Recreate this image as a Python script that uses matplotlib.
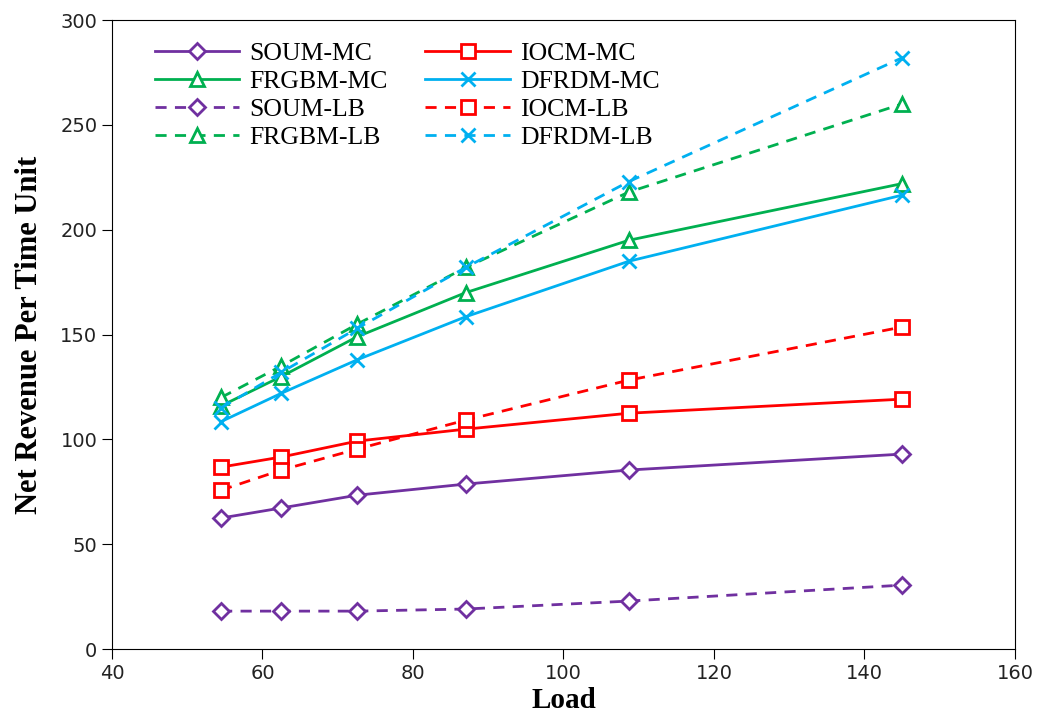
import matplotlib.pyplot as plt

plt.rcParams["font.family"] = ["Liberation Serif", "DejaVu Serif"]

load = [54.5, 62.5, 72.6, 87.0, 108.7, 145.0]

soum_mc = [62.5, 67.3, 73.4, 78.7, 85.4, 93.0]
iocm_mc = [86.8, 91.6, 99.2, 104.9, 112.5, 119.2]
frgbm_mc = [116.0, 130.0, 149.0, 170.0, 195.0, 222.0]
dfrdm_mc = [108.5, 122.0, 138.0, 158.5, 185.0, 216.5]

soum_lb = [18.1, 18.1, 18.1, 19.1, 22.9, 30.5]
iocm_lb = [75.8, 85.4, 95.4, 109.2, 128.3, 153.6]
frgbm_lb = [120.0, 135.0, 155.0, 182.0, 218.0, 260.0]
dfrdm_lb = [115.0, 132.0, 153.0, 182.0, 223.0, 282.0]

purple = "#7030A0"
red = "#FF0000"
green = "#00B050"
blue = "#00B0F0"

fig = plt.figure(figsize=(10.42, 7.18), dpi=100)
ax = fig.add_axes([0.1075, 0.096, 0.8665, 0.876])

common = dict(lw=2, mfc="white", mew=2)
series = [
    (soum_mc, "SOUM-MC", purple, "-", "D", 8),
    (iocm_mc, "IOCM-MC", red, "-", "s", 10),
    (frgbm_mc, "FRGBM-MC", green, "-", "^", 9.5),
    (dfrdm_mc, "DFRDM-MC", blue, "-", "x", 9.5),
    (soum_lb, "SOUM-LB", purple, "--", "D", 8),
    (iocm_lb, "IOCM-LB", red, "--", "s", 10),
    (frgbm_lb, "FRGBM-LB", green, "--", "^", 9.5),
    (dfrdm_lb, "DFRDM-LB", blue, "--", "x", 9.5),
]

handles = {}
for vals, name, col, ls, mk, ms in series:
    kw = dict(common)
    if ls == "--":
        kw["dashes"] = (4, 3)
    (h,) = ax.plot(load, vals, ls, color=col, marker=mk, ms=ms, mec=col,
                   label=name, **kw)
    handles[name] = h

order = ["SOUM-MC", "FRGBM-MC", "SOUM-LB", "FRGBM-LB",
         "IOCM-MC", "DFRDM-MC", "IOCM-LB", "DFRDM-LB"]
ax.legend([handles[n] for n in order], order, ncol=2, frameon=False,
          loc="upper left", bbox_to_anchor=(0.03, 0.99), fontsize=18.5,
          handlelength=3.3, labelspacing=0.2, columnspacing=1.45,
          handletextpad=0.4, borderaxespad=0.2)

ax.set_xlim(40, 160)
ax.set_ylim(0, 300)
ax.set_xticks(range(40, 161, 20))
ax.set_yticks(range(0, 301, 50))
ax.tick_params(labelsize=14, direction="out", length=7, labelcolor="#222222")
for lab in ax.get_xticklabels() + ax.get_yticklabels():
    lab.set_family("DejaVu Sans")
ax.set_xlabel("Load", fontsize=21, fontweight="bold", labelpad=3)
ax.set_ylabel("Net Revenue Per Time Unit", fontsize=22, fontweight="bold",
              labelpad=12)

fig.savefig("out.png", dpi=100)
